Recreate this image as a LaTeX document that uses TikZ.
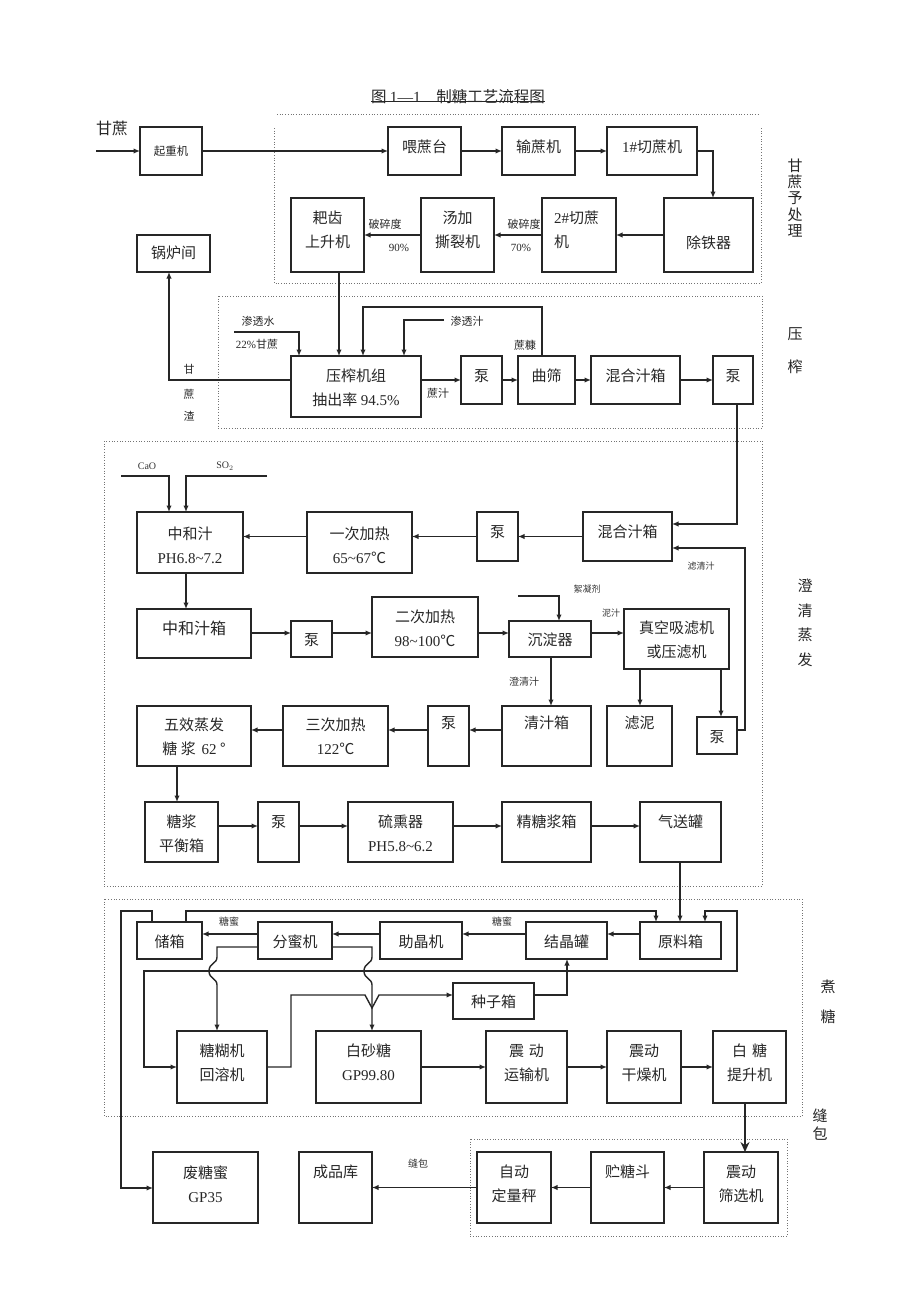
\documentclass[tikz,border=0pt]{standalone}
\usepackage{fontspec}
\setmainfont{Noto Sans CJK SC}
\newfontfamily\tm{Liberation Serif}
\usetikzlibrary{arrows.meta}
\tikzset{
 bx/.style={draw=black!85, line width=1.4pt, inner sep=0pt, outer sep=0pt},
 ln/.style={line width=1.4pt, draw=black!85},
 ar/.style={ln, -{Latex[length=6.5pt,width=5.5pt]}},
 br/.style={ln, {Latex[length=6.5pt,width=5.5pt]}-{Latex[length=6.5pt,width=5.5pt]}},
 bigar/.style={ln, -{Stealth[length=10pt,width=9pt]}},
 dotb/.style={draw=black!55, line width=0.7pt, dotted},
 tx/.style={font=\fontsize{15}{24}\selectfont, align=center, inner sep=0pt, text=black!85},
 sm/.style={font=\fontsize{11}{13}\selectfont, inner sep=0pt, text=black!85},
 xs/.style={font=\fontsize{9}{11}\selectfont, inner sep=0pt, text=black!80},
 vl/.style={font=\fontsize{15}{16}\selectfont, inner sep=0pt, text=black!85},
}
\newcommand\BX[7]{\node[bx, minimum width={(#4-#2)*1pt}, minimum height={(#5-#3)*1pt}] (#1) at ({(#2+#4)/2},{(#3+#5)/2}) {};
\node[tx] (#1t) at ({(#2+#4)/2},#6) {#7};}
\begin{document}
\begin{tikzpicture}[x=1pt,y=-1pt]
\useasboundingbox (0,0) rectangle (920,1302);
% ---------------- title
\node[tx, anchor=center, font=\fontsize{15.5}{18}\selectfont] (title) at (458,97) {图 {\tm 1—1}\quad 制糖工艺流程图};
\draw[line width=0.7pt, black!85] (title.south west) ++(0,-3) coordinate (tl) -- (tl -| title.south east);
% ---------------- dotted frames
\draw[dotb] (277,114) -- (760,114);
\draw[dotb] (274,128) -- (274,283) -- (761,283) -- (761,128);
\draw[dotb] (218,296) rectangle (762,428);
\draw[dotb] (104,441) rectangle (762,886);
\draw[dotb] (104,899) rectangle (802,1116);
\draw[dotb] (470,1139) rectangle (787,1236);
% ---------------- section labels
\node[vl, align=center, font=\fontsize{15}{16.3}\selectfont] (secA) at (795,198) {甘\\蔗\\予\\处\\理};
\node[vl] (secB1) at (795,334) {压};
\node[vl] (secB2) at (795,367) {榨};
\node[vl, align=center, font=\fontsize{15}{24.5}\selectfont] (secC) at (805,623) {澄\\清\\蒸\\发};
\node[vl] (secD1) at (828,987) {煮};
\node[vl] (secD2) at (828,1017) {糖};
\node[vl] (secE1) at (820,1116) {缝};
\node[vl] (secE2) at (820,1134) {包};
% ---------------- pretreatment
\node[tx, font=\fontsize{16}{18}\selectfont] (gzlab) at (112,128) {甘蔗};
\coordinate (gzin) at (96,151);
\node[bx, minimum width=62pt, minimum height=48pt] (qzj) at (171,151) {};
\node[sm, font=\fontsize{11.5}{13}\selectfont] (qzjt) at (171,151) {起重机};
\BX{wzt}{388}{127}{461}{175}{147}{喂蔗台}
\BX{szj}{502}{127}{575}{175}{147}{输蔗机}
\BX{qza}{607}{127}{697}{175}{147}{{\tm 1\#}切蔗机}
\BX{ctq}{664}{198}{753}{272}{243}{除铁器}
\node[bx, minimum width=74pt, minimum height=74pt] (qzb) at (579,235) {};
\node[tx, align=left, anchor=west] (qzbt) at (554,230) {{\tm 2\#}切蔗\\机};
\BX{tj}{421}{198}{494}{272}{230}{汤加\\撕裂机}
\BX{pc}{291}{198}{364}{272}{230}{耙齿\\上升机}
\BX{glj}{137}{235}{210}{272}{253}{锅炉间}
\node[sm] (psd1) at (385,224) {破碎度};
\node[sm] (pct1) at (399,248) {\tm 90\%};
\node[sm] (psd2) at (524,224) {破碎度};
\node[sm] (pct2) at (521,248) {\tm 70\%};
\draw[ar] (gzin) -- (qzj.west);
\draw[ar] (qzj.east) -- (wzt.west);
\draw[ar] (wzt.east) -- (szj.west);
\draw[ar] (szj.east) -- (qza.west);
\draw[ar] (qza.east) -| ([xshift=4.5pt]ctq.north);
\draw[ar] (ctq.west) -- (qzb.east);
\draw[ar] (qzb.west) -- (tj.east);
\draw[ar] (tj.west) -- (pc.east);
% ---------------- pressing
\BX{yz}{291}{356}{421}{417}{387.5}{压榨机组\\抽出率 {\tm 94.5\%}}
\BX{pa}{461}{356}{502}{404}{376}{泵}
\BX{qs}{518}{356}{575}{404}{376}{曲筛}
\BX{hha}{591}{356}{680}{404}{376}{混合汁箱}
\BX{pb}{713}{356}{753}{404}{376}{泵}
\node[sm] (stslab) at (258,321) {渗透水};
\node[sm] (gzpct) at (257,344) {{\tm 22\%}甘蔗};
\node[sm] (stzlab) at (467,321) {渗透汁};
\node[sm] (zklab) at (525,345) {蔗糠};
\node[sm] (zzlab) at (438,393) {蔗汁};
\node[sm] (gzz1) at (189,369) {甘};
\node[sm] (gzz2) at (189,394) {蔗};
\node[sm] (gzz3) at (189,416) {渣};
\coordinate (stsin) at (234,332);
\coordinate (stzin) at (444,320);
\draw[ar] ([xshift=11.5pt]pc.south) -- ([xshift=11.5pt]pc.south |- yz.north);
\draw[ar] (stsin) -| (yz.north -| 299,0);
\draw[ar] ([xshift=-4.5pt]qs.north) |- (363,307) -- (yz.north -| 363,0);
\draw[ar] (stzin) -| (yz.north -| 404,0);
\draw[ar] (yz.west |- pa.west) -| ([xshift=-4.5pt]glj.south);
\draw[ar] (yz.east |- pa.west) -- (pa.west);
\draw[ar] (pa.east) -- (qs.west);
\draw[ar] (qs.east) -- (hha.west);
\draw[ar] (hha.east) -- (pb.west);
% ---------------- clarification
\BX{hhb}{583}{512}{672}{561}{532}{混合汁箱}
\BX{pc1}{477}{512}{518}{561}{532}{泵}
\BX{ha}{307}{512}{412}{573}{545}{一次加热\\{\tm 65\textasciitilde 67}℃}
\BX{zh}{137}{512}{243}{573}{545}{中和汁\\{\tm PH6.8\textasciitilde 7.2}}
\BX{zhx}{137}{609}{251}{658}{628}{\fontsize{16}{18}\selectfont 中和汁箱}
\BX{pc2}{291}{621}{332}{657}{640}{泵}
\BX{hb}{372}{597}{478}{657}{628.5}{二次加热\\{\tm 98\textasciitilde 100}℃}
\BX{cdq}{509}{621}{591}{657}{640}{沉淀器}
\BX{zk}{624}{609}{729}{669}{640}{真空吸滤机\\或压滤机}
\BX{qzx}{502}{706}{591}{766}{723}{清汁箱}
\BX{ln}{607}{706}{672}{766}{723}{滤泥}
\BX{pc3}{428}{706}{469}{766}{723}{泵}
\BX{pc4}{697}{717}{737}{754}{737}{泵}
\BX{hc}{283}{706}{388}{766}{736.5}{三次加热\\{\tm 122}℃}
\BX{wx}{137}{706}{251}{766}{736.5}{五效蒸发\\糖 浆\, {\tm 62} °}
\BX{tjx}{145}{802}{218}{862}{833.5}{糖浆\\平衡箱}
\BX{pc5}{258}{802}{299}{862}{822}{泵}
\BX{lx}{348}{802}{453}{862}{833.5}{硫熏器\\{\tm PH5.8\textasciitilde 6.2}}
\BX{jtj}{502}{802}{591}{862}{822}{精糖浆箱}
\BX{qsg}{640}{802}{721}{862}{822}{气送罐}
\node[xs, font=\fontsize{10}{11}\selectfont] (caolab) at (147,466) {\tm CaO};
\node[xs, font=\fontsize{10}{11}\selectfont] (so2lab) at (225,466) {\tm SO$_2$};
\node[xs] (lqzlab) at (701,566) {滤清汁};
\node[xs] (xnjlab) at (587,589) {絮凝剂};
\node[xs] (nzlab) at (611,613) {泥汁};
\node[xs, font=\fontsize{10}{11}\selectfont] (cqzlab) at (524,682) {澄清汁};
\coordinate (caoin) at (121,476);
\coordinate (so2in) at (267,476);
\coordinate (xnjin) at (518,596);
\draw[ar] ([xshift=4pt]pb.south) |- (hhb.east |- 0,524);
\draw[ar] (hhb.west) -- (pc1.east);
\draw[ar] (pc1.west) -- (ha.east |- pc1.west);
\draw[ar] (ha.west |- pc1.west) -- (zh.east |- pc1.west);
\draw[ar] (caoin) -| (zh.north -| 169,0);
\draw[ar] (so2in) -| (zh.north -| 186,0);
\draw[ar] (zh.south -| 186,0) -- (zhx.north -| 186,0);
\draw[ar] (zhx.east |- 0,633) -- (pc2.west |- 0,633);
\draw[ar] (pc2.east |- 0,633) -- (hb.west |- 0,633);
\draw[ar] (hb.east |- 0,633) -- (cdq.west |- 0,633);
\draw[ar] (cdq.east |- 0,633) -- (zk.west |- 0,633);
\draw[ar] (xnjin) -| (cdq.north -| 559,0);
\draw[ar] (cdq.south -| 551,0) -- (qzx.north -| 551,0);
\draw[ar] (zk.south -| 640,0) -- (ln.north -| 640,0);
\draw[ar] (zk.south -| 721,0) -- (pc4.north -| 721,0);
\draw[ar] (pc4.east |- 0,730) -- (745,730) |- (hhb.east |- 0,548);
\draw[ar] (qzx.west |- 0,730) -- (pc3.east |- 0,730);
\draw[ar] (pc3.west |- 0,730) -- (hc.east |- 0,730);
\draw[ar] (hc.west |- 0,730) -- (wx.east |- 0,730);
\draw[ar] (wx.south -| 177,0) -- (tjx.north -| 177,0);
\draw[ar] (tjx.east |- 0,826) -- (pc5.west |- 0,826);
\draw[ar] (pc5.east |- 0,826) -- (lx.west |- 0,826);
\draw[ar] (lx.east |- 0,826) -- (jtj.west |- 0,826);
\draw[ar] (jtj.east |- 0,826) -- (qsg.west |- 0,826);
% ---------------- boiling
\BX{cx}{137}{922}{202}{959}{942}{储箱}
\BX{fm}{258}{922}{332}{959}{942}{分蜜机}
\BX{zj}{380}{922}{462}{959}{942}{助晶机}
\BX{jjg}{526}{922}{607}{959}{942}{结晶罐}
\BX{ylx}{640}{922}{721}{959}{942}{原料箱}
\BX{zzx}{453}{983}{534}{1019}{1002}{种子箱}
\BX{thj}{177}{1031}{267}{1103}{1062.5}{糖糊机\\回溶机}
\BX{bst}{316}{1031}{421}{1103}{1062.5}{白砂糖\\{\tm GP99.80}}
\BX{zdy}{486}{1031}{567}{1103}{1062.5}{震\,\,动\\运输机}
\BX{zdg}{607}{1031}{681}{1103}{1062.5}{震动\\干燥机}
\BX{bts}{713}{1031}{786}{1103}{1062.5}{白\,\,糖\\提升机}
\node[xs, font=\fontsize{10}{11}\selectfont] (tm1) at (229,922) {糖蜜};
\node[xs, font=\fontsize{10}{11}\selectfont] (tm2) at (502,922) {糖蜜};
\draw[ar] (qsg.south -| 680,0) -- (ylx.north -| 680,0);
\draw[ar] (ylx.west |- 0,934) -- (jjg.east |- 0,934);
\draw[ar] (jjg.west |- 0,934) -- (zj.east |- 0,934);
\draw[ar] (zj.west |- 0,934) -- (fm.east |- 0,934);
\draw[ar] (fm.west |- 0,934) -- (cx.east |- 0,934);
\draw[ar] (cx.north -| 186,0) |- (656,911) -- (ylx.north -| 656,0);
\draw[br] (thj.west |- 0,1067) -| (144,971) -- (737,971) |- (705,911) -- (ylx.north -| 705,0);
\draw[ar] (fm.west |- 0,947) -- (217,947) -- (217,957) .. controls (217,964) and (209,963) .. (209,971) .. controls (209,979) and (217,978) .. (217,985) -- (thj.north -| 217,0);
\draw[ar] (fm.east |- 0,947) -- (372,947) -- (372,957) .. controls (372,964) and (364,963) .. (364,971) .. controls (364,979) and (372,978) .. (372,985) -- (bst.north -| 372,0);
\draw[ar] (thj.east |- 0,1067) -| (291,995) -- (365,995) -- (372,1008) -- (379,995) -- (zzx.west |- 0,995);
\draw[ar] (zzx.east |- 0,995) -| (jjg.south -| 567,0);
\draw[ar] (bst.east) -- (zdy.west);
\draw[ar] (zdy.east) -- (zdg.west);
\draw[ar] (zdg.east) -- (bts.west);
% ---------------- packing
\BX{zds}{704}{1152}{778}{1223}{1184}{震动\\筛选机}
\BX{zcd}{591}{1152}{664}{1223}{1172}{贮糖斗}
\BX{zdl}{477}{1152}{551}{1223}{1184}{自动\\定量秤}
\BX{cpk}{299}{1152}{372}{1223}{1172}{成品库}
\BX{ftm}{153}{1152}{258}{1223}{1184}{废糖蜜\\{\tm GP35}}
\node[xs, font=\fontsize{10}{11}\selectfont] (fblab) at (418,1164) {缝包};
\draw[ar] (cx.north -| 152,0) -- (152,911) -- (121,911) |- (ftm.west |- 0,1188);
\draw[bigar] (bts.south -| 745,0) -- (zds.north -| 745,0);
\draw[ar] (zds.west) -- (zcd.east);
\draw[ar] (zcd.west) -- (zdl.east);
\draw[ar] (zdl.west) -- (cpk.east);
\end{tikzpicture}
\end{document}
